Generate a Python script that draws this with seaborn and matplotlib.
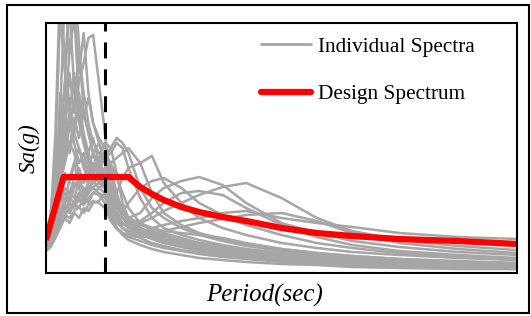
import matplotlib
matplotlib.use("Agg")
import matplotlib.pyplot as plt
import seaborn as sns
import pandas as pd
from matplotlib.lines import Line2D
from matplotlib.patches import Rectangle

# Period grid (sec) shared by the individual spectra
periods = [0.0, 0.04, 0.08, 0.12, 0.16, 0.2, 0.24, 0.28, 0.32, 0.36, 0.4, 0.45, 0.5, 0.55,
           0.6, 0.65, 0.7, 0.8, 0.9, 1.0, 1.15, 1.3, 1.5, 1.7, 2.0, 2.3, 2.6, 3.0, 3.5, 4.0]

# Individual spectra, Sa(g)
rec01 = [0.30,0.55,1.40,2.90,2.10,2.70,1.80,1.60,1.30,1.10,1.00,0.95,0.90,0.70,0.55,0.50,0.45,0.40,0.35,0.30,0.28,0.25,0.22,0.20,0.16,0.13,0.11,0.09,0.07,0.06]
rec02 = [0.28,0.45,0.90,1.60,2.80,2.20,2.60,1.70,1.40,1.20,1.35,1.10,1.00,0.80,0.60,0.55,0.50,0.42,0.40,0.36,0.30,0.26,0.22,0.19,0.15,0.12,0.10,0.08,0.07,0.05]
rec03 = [0.33,0.50,0.80,1.20,1.90,2.70,2.90,2.30,1.60,1.40,1.20,1.00,0.85,0.65,0.55,0.48,0.50,0.45,0.38,0.33,0.30,0.27,0.24,0.20,0.17,0.14,0.12,0.10,0.08,0.07]
rec04 = [0.30,0.40,0.60,0.90,1.20,1.50,1.70,1.90,2.10,2.35,2.38,1.90,1.40,0.90,0.70,0.60,0.55,0.50,0.42,0.38,0.32,0.28,0.24,0.21,0.17,0.14,0.12,0.10,0.08,0.07]
rec05 = [0.25,0.35,0.70,1.80,1.40,2.00,1.60,2.20,1.80,1.50,1.30,1.20,1.10,0.75,0.55,0.45,0.42,0.38,0.34,0.30,0.26,0.22,0.18,0.15,0.12,0.10,0.08,0.07,0.05,0.04]
rec06 = [0.35,0.60,1.10,1.40,1.90,1.60,2.00,1.50,1.30,1.15,1.00,0.90,1.00,0.85,0.65,0.60,0.55,0.48,0.45,0.40,0.35,0.30,0.26,0.22,0.18,0.15,0.13,0.11,0.09,0.08]
rec07 = [0.30,0.45,0.65,0.90,1.10,1.30,1.20,1.00,0.95,1.05,1.20,1.30,1.10,0.90,0.70,0.60,0.52,0.45,0.40,0.35,0.30,0.26,0.22,0.19,0.16,0.14,0.12,0.10,0.08,0.07]
rec08 = [0.27,0.35,0.55,0.80,0.70,0.95,1.10,0.85,0.75,0.90,1.00,1.15,1.30,1.25,1.00,0.70,0.55,0.45,0.40,0.36,0.33,0.30,0.27,0.23,0.19,0.16,0.13,0.11,0.09,0.08]
rec09 = [0.25,0.30,0.45,0.60,0.75,0.70,0.85,0.95,0.80,0.90,1.00,1.10,1.15,1.20,1.30,1.25,1.05,0.75,0.55,0.45,0.38,0.33,0.28,0.24,0.20,0.17,0.14,0.12,0.10,0.09]
rec10 = [0.30,0.38,0.50,0.65,0.60,0.75,0.70,0.80,0.75,0.85,0.90,0.95,1.00,0.90,0.80,0.95,1.05,1.10,1.17,0.90,0.70,0.55,0.45,0.38,0.30,0.25,0.21,0.18,0.15,0.13]
rec11 = [0.22,0.30,0.40,0.55,0.65,0.60,0.70,0.65,0.75,0.70,0.80,0.85,0.90,0.75,0.65,0.60,0.55,0.60,0.75,0.85,0.92,0.96,0.88,0.70,0.50,0.40,0.32,0.26,0.21,0.18]
rec12 = [0.28,0.35,0.50,0.70,0.80,0.75,0.90,0.85,0.95,0.90,1.00,1.05,0.95,0.70,0.55,0.50,0.48,0.50,0.55,0.62,0.70,0.78,0.86,0.90,0.75,0.55,0.42,0.33,0.27,0.23]
rec13 = [0.26,0.33,0.45,0.60,0.55,0.70,0.65,0.75,0.70,0.80,0.85,0.80,0.75,0.65,0.60,0.62,0.70,0.85,0.92,0.95,0.85,0.70,0.58,0.48,0.38,0.30,0.25,0.20,0.16,0.13]
rec14 = [0.24,0.30,0.42,0.55,0.65,0.60,0.70,0.72,0.68,0.75,0.80,0.78,0.70,0.55,0.45,0.40,0.38,0.40,0.45,0.48,0.52,0.55,0.60,0.62,0.55,0.50,0.46,0.40,0.36,0.34]
rec15 = [0.22,0.26,0.35,0.45,0.55,0.50,0.60,0.55,0.65,0.62,0.70,0.72,0.80,0.60,0.45,0.38,0.33,0.28,0.24,0.21,0.18,0.15,0.13,0.11,0.09,0.08,0.06,0.05,0.04,0.04]
rec16 = [0.32,0.42,0.60,0.85,1.00,0.90,1.10,1.25,1.05,0.95,1.10,0.95,0.85,0.60,0.45,0.40,0.36,0.32,0.28,0.25,0.22,0.19,0.16,0.14,0.11,0.09,0.08,0.06,0.05,0.04]
rec17 = [0.29,0.40,0.75,1.00,1.30,1.60,1.40,1.70,1.30,1.20,1.05,1.00,0.95,0.85,0.75,0.65,0.55,0.42,0.36,0.32,0.28,0.25,0.22,0.20,0.17,0.15,0.13,0.11,0.09,0.08]
rec18 = [0.31,0.48,0.85,1.30,1.10,1.50,1.30,1.10,1.20,1.00,0.90,1.00,1.20,1.10,0.95,0.80,0.65,0.50,0.45,0.42,0.40,0.38,0.35,0.30,0.24,0.20,0.17,0.14,0.11,0.10]
rec19 = [0.27,0.33,0.48,0.62,0.70,0.80,0.75,0.90,0.85,0.80,0.95,1.00,1.05,1.10,1.15,1.20,1.25,1.10,0.80,0.60,0.48,0.40,0.34,0.29,0.24,0.20,0.17,0.14,0.12,0.10]
rec20 = [0.25,0.32,0.45,0.58,0.68,0.64,0.72,0.78,0.74,0.82,0.86,0.90,0.85,0.70,0.60,0.55,0.50,0.52,0.60,0.70,0.80,0.82,0.78,0.65,0.48,0.36,0.28,0.22,0.18,0.15]
rec21 = [0.23,0.28,0.38,0.50,0.58,0.55,0.62,0.66,0.60,0.68,0.72,0.70,0.65,0.52,0.44,0.40,0.37,0.36,0.38,0.42,0.46,0.50,0.54,0.58,0.60,0.52,0.40,0.30,0.24,0.20]
rec22 = [0.30,0.50,1.20,2.60,2.00,1.70,1.40,1.25,1.10,1.00,0.92,0.85,0.80,0.65,0.50,0.45,0.40,0.35,0.30,0.27,0.23,0.20,0.17,0.15,0.12,0.10,0.09,0.07,0.06,0.05]
rec23 = [0.26,0.38,0.65,1.00,1.45,1.25,1.55,1.35,1.60,1.40,1.20,1.10,1.20,1.00,0.70,0.55,0.48,0.40,0.35,0.31,0.27,0.23,0.20,0.17,0.14,0.12,0.10,0.08,0.06,0.05]
rec24 = [0.28,0.42,0.70,1.10,1.60,2.20,2.60,2.00,2.40,1.80,1.50,1.30,1.15,0.85,0.60,0.50,0.45,0.40,0.36,0.32,0.28,0.24,0.20,0.17,0.14,0.11,0.09,0.08,0.06,0.05]
rec25 = [0.30,0.44,0.75,1.05,1.35,1.20,1.45,1.80,1.55,1.75,1.50,1.35,1.25,1.05,0.80,0.62,0.50,0.42,0.38,0.34,0.30,0.26,0.23,0.20,0.16,0.13,0.11,0.09,0.07,0.06]
rec26 = [0.26,0.34,0.50,0.70,0.85,0.80,0.95,1.05,0.90,1.00,1.10,1.05,1.15,1.25,1.35,1.30,1.20,0.85,0.65,0.55,0.45,0.38,0.32,0.27,0.22,0.18,0.15,0.12,0.10,0.08]

records = [rec01, rec02, rec03, rec04, rec05, rec06, rec07, rec08, rec09, rec10, rec11, rec12,
           rec13, rec14, rec15, rec16, rec17, rec18, rec19, rec20, rec21, rec22, rec23,
           rec24, rec25, rec26]

# Design spectrum
design_T = [0.0, 0.15, 0.70, 0.75, 0.80, 0.90, 1.00, 1.15, 1.30, 1.50, 1.70, 2.00, 2.30,
            2.60, 3.00, 3.50, 4.00]
design_Sa = [0.33, 0.96, 0.96, 0.91, 0.86, 0.79, 0.73, 0.66, 0.61, 0.56, 0.52, 0.45, 0.40,
             0.37, 0.34, 0.32, 0.29]

T_marker = 0.5

rows = []
for i, rec in enumerate(records):
    for t, s in zip(periods, rec):
        rows.append({"T": t, "Sa": s, "rec": i})
df = pd.DataFrame(rows)
dd = pd.DataFrame({"T": design_T, "Sa": design_Sa})

sns.set_style("white")
plt.rcParams["font.family"] = ["Liberation Serif", "DejaVu Serif"]
plt.rcParams["text.color"] = "black"
plt.rcParams["axes.labelcolor"] = "black"

fig = plt.figure(figsize=(5.31, 3.16), dpi=100)
ax = fig.add_axes([46/531, 43/316, 471/531, 250/316])

gray = "#a6a6a6"
sns.lineplot(data=df, x="T", y="Sa", units="rec", estimator=None, color=gray,
             linewidth=1.8, ax=ax, legend=False)
sns.lineplot(data=dd, x="T", y="Sa", color="#ff0000", linewidth=4.5, ax=ax,
             legend=False, solid_capstyle="butt", solid_joinstyle="round")
ax.axvline(T_marker, color="black", linewidth=2.2, dashes=(5.2, 3.6), zorder=5)

ax.set_xlim(0, 4.0)
ax.set_ylim(0, 2.5)
ax.set_xticks([])
ax.set_yticks([])
for sp in ax.spines.values():
    sp.set_color("black")
    sp.set_linewidth(1.5)

ax.set_xlabel("Period(sec)", fontsize=18, style="italic", color="black")
ax.xaxis.set_label_coords(0.465, -0.043)
ax.xaxis.label.set_va("top")
ax.set_ylabel("Sa(g)", fontsize=16.5, style="italic", color="black")
ax.yaxis.set_label_coords(-0.013, 0.5)

handles = [Line2D([], [], color=gray, linewidth=2.0),
           Line2D([], [], color="#ff0000", linewidth=4.5, solid_capstyle="round")]
leg = ax.legend(handles, ["Individual Spectra", "Design Spectrum"], loc="upper left",
                bbox_to_anchor=(0.457, 0.945), frameon=False, fontsize=15.3,
                handlelength=2.35, handletextpad=0.3, labelspacing=1.3, borderpad=0,
                borderaxespad=0)
for t in leg.get_texts():
    t.set_color("black")

fig.patches.append(Rectangle((7/531, 3/316), 522/531, 308/316, transform=fig.transFigure,
                             fill=False, edgecolor="black", linewidth=1.5))

fig.savefig("out.png", dpi=100)
